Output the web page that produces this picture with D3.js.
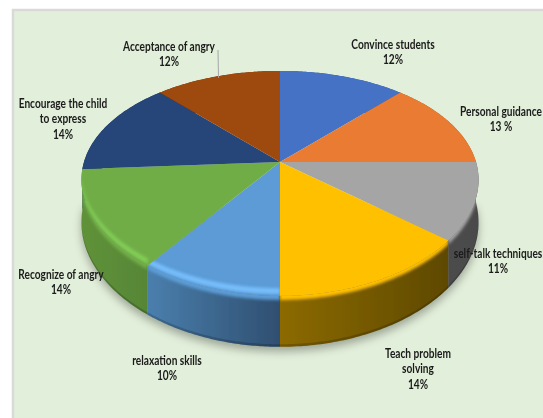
<!DOCTYPE html>
<html><head><meta charset="utf-8">
<script src="https://cdn.jsdelivr.net/npm/d3@7/dist/d3.min.js"></script>
<style>html,body{margin:0;padding:0;background:#fff;overflow:hidden}svg{display:block}</style>
</head><body><svg id="c" width="543" height="418"></svg>
<script>
// ---- data ----
const categories = ["Convince students","Personal guidance","self-talk techniques","Teach problem solving","relaxation skills","Recognize of angry","Encourage the child to express","Acceptance of angry"];
const values = [12,13,11,14,10,14,14,12];
const valueLabels = ["12%","13 %","11%","14%","10%","14%","14%","12%"];
const labelLines = [["Convince students"],["Personal guidance"],["self-talk techniques"],["Teach problem","solving"],["relaxation skills"],["Recognize of angry"],["Encourage the child","to express"],["Acceptance of angry"]];
// ---- styles / layout ----
const topColors  = ["#4472C4","#E97C30","#A5A5A5","#FFC000","#5B9BD5","#70AD47","#264478","#9E480E"];
const highColors = ["#4472C4","#E97C30","#A5A5A5","#FFC000","#76BEFC","#82CE56","#264478","#9E480E"];
const sideLeft   = ["#2F5597","#A0521C","#4C4C4C","#8C6A00","#4A7FAD","#5F9239","#1A3560","#6A3008"];
const sideRight  = ["#2F5597","#A0521C","#4A4A4A","#5E4900","#2F4F70","#578636","#1A3560","#6A3008"];
const labelPos = [[393,49],[501,116],[498,258],[418,358],[167,365],[61,279],[63,108],[169,51]];
const lineH = 15.5;
const W=543,H=418, cx=280, cy=162, A=196, B=108.4, k=0.19, kx=0.16;

const svg=d3.select("#c");
const defs=svg.append("defs");
const blur=(id,s)=>defs.append("filter").attr("id",id).attr("x","-20%").attr("y","-20%").attr("width","140%").attr("height","140%")
  .append("feGaussianBlur").attr("stdDeviation",s);
blur("soft",0.5); blur("shadow",4); blur("bev",1.6);

const root=svg.append("g").attr("filter","url(#soft)");
root.append("rect").attr("width",W).attr("height",H).attr("fill","#fff");
root.append("rect").attr("x",13).attr("y",10).attr("width",W+20).attr("height",H+20).attr("fill","#E2EFDA").attr("stroke","#D9D9D9").attr("stroke-width",2.5);

// perspective disc projection
const px=a=>{const u=Math.sin(a),v=-Math.cos(a);return cx+A*u/(1-kx*v);};
const py=a=>{const v=-Math.cos(a);return cy+B*v/(1-k*v);};
const drop=a=>41+10*(-Math.cos(a));
const rim=(a,f)=>[px(a),py(a)+f*drop(a)];
const samples=(a0,a1)=>d3.range(0,61).map(i=>a0+(a1-a0)*i/60);
const line=d3.line();
const arcs=d3.pie().sort(null).value(d=>d)(values);
const mid=d=>-Math.cos((d.startAngle+d.endAngle)/2);

// ground shadow
root.append("path").attr("fill","#000").attr("fill-opacity",0.3).attr("filter","url(#shadow)")
  .attr("transform","translate(0,5)")
  .attr("d",line(samples(Math.PI/2,3*Math.PI/2).map(a=>rim(a,1)))+"Z");

const band=(a0,a1,f0,f1)=>{const s=samples(a0,a1);
  return line(s.map(a=>rim(a,f0)).concat(s.slice().reverse().map(a=>rim(a,f1))))+"Z";};
const sector=d=>line([[cx,cy],...samples(d.startAngle,d.endAngle).map(a=>[px(a),py(a)])])+"Z";

// walls, back to front
arcs.map((d,i)=>({d,i})).sort((a,b)=>mid(a.d)-mid(b.d)).forEach(({d,i})=>{
  const id="wall"+i, s=samples(d.startAngle,d.endAngle), xs=d3.extent(s,px);
  const g=defs.append("linearGradient").attr("id",id).attr("gradientUnits","userSpaceOnUse")
    .attr("x1",xs[0]).attr("x2",xs[1]).attr("y1",0).attr("y2",0);
  g.append("stop").attr("offset",0).attr("stop-color",sideLeft[i]);
  g.append("stop").attr("offset",1).attr("stop-color",sideRight[i]);
  root.append("path").attr("fill",`url(#${id})`).attr("d",band(d.startAngle,d.endAngle,0,1));
  root.append("path").attr("fill","#000").attr("fill-opacity",0.18).attr("d",band(d.startAngle,d.endAngle,0.95,1));
});

// top face
arcs.forEach((d,i)=>{
  root.append("path").attr("fill",topColors[i]).attr("d",sector(d));
});

// bevel along the front rim, clipped to each slice and its wall
arcs.forEach((d,i)=>{
  if(mid(d)<=0) return;
  defs.append("clipPath").attr("id","clip"+i).append("path")
    .attr("d",sector(d)+band(d.startAngle,d.endAngle,-0.02,1));
  const g=root.append("g").attr("clip-path",`url(#clip${i})`).append("g").attr("filter","url(#bev)");
  g.append("path").attr("fill",topColors[i]).attr("d",band(d.startAngle,d.endAngle,-0.06,0.08));
  g.append("path").attr("fill",highColors[i]).attr("d",band(d.startAngle,d.endAngle,-0.15,-0.04));
});

// leader line
const leader=arcs[7];
const leadAngle=leader.startAngle+(leader.endAngle-leader.startAngle)*0.5;
root.append("line").attr("x1",218).attr("y1",50)
  .attr("x2",218.5).attr("y2",py(leadAngle-0.05)).attr("stroke","#A6A6A6").attr("stroke-width",1);

// labels: Lato squeezed horizontally to the narrow face of the reference
const probe=root.append("text").attr("font-family","Lato,sans-serif").attr("font-weight","bold").attr("font-size",12.5).text(labelLines[1][0]);
const sx=82/probe.node().getComputedTextLength();
probe.remove();
categories.forEach((c,i)=>{
  const lines=labelLines[i].concat(valueLabels[i]);
  const t=root.append("text").attr("text-anchor","middle").attr("fill","#1a1a1a")
    .attr("font-family","Lato,sans-serif").attr("font-weight","bold").attr("font-size",12.5)
    .attr("transform",`translate(${labelPos[i][0]},${labelPos[i][1]}) scale(${sx},1)`);
  lines.forEach((l,j)=>t.append("tspan").attr("x",0).attr("dy",j?lineH:0).text(l));
});
</script></body></html>
